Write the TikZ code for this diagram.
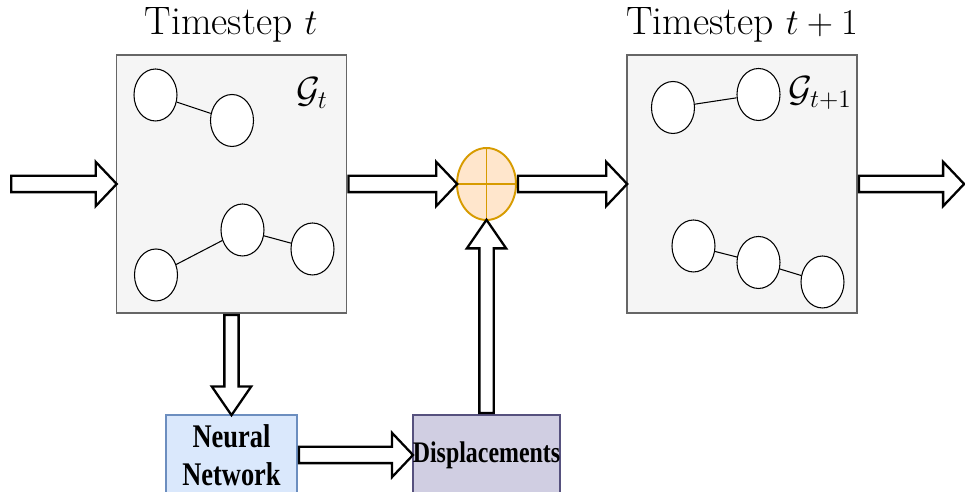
\documentclass[tikz,border=0pt]{standalone}
\usepackage{fontspec}
\newfontfamily\boxfont[FakeStretch=0.8]{Liberation Serif}
\usetikzlibrary{calc,shapes.geometric,shapes.arrows}

\definecolor{boxgrey}{HTML}{F5F5F5}
\definecolor{boxline}{HTML}{666666}
\definecolor{mergefill}{HTML}{FFE6CC}
\definecolor{mergeline}{HTML}{D79B00}
\definecolor{nnfill}{HTML}{DAE8FC}
\definecolor{nnline}{HTML}{6C8EBF}
\definecolor{dispfill}{HTML}{D0CEE2}
\definecolor{displine}{HTML}{56517E}

\tikzset{
  graphbox/.style={draw=boxline,fill=boxgrey,line width=1.1pt,minimum width=4.6cm,minimum height=5.16cm},
  vertex/.style={ellipse,draw,fill=white,line width=.6pt,inner sep=0pt,minimum width=.86cm,minimum height=1.04cm},
  merge/.style={ellipse,draw=mergeline,fill=mergefill,line width=1.1pt,minimum width=1.18cm,minimum height=1.44cm},
  title/.style={font=\fontsize{22.6}{26}\selectfont},
  glabel/.style={font=\fontsize{22}{26}\selectfont},
  blockbox/.style={line width=1.1pt,minimum height=1.6cm,align=center,inner sep=0pt},
  flow/.style={single arrow,draw=black,fill=white,line width=1.3pt,inner xsep=0pt,inner ysep=.14cm,
    single arrow head extend=.28cm,single arrow tip angle=93},
  flowv/.style={inner ysep=.12cm,single arrow head extend=.25cm,single arrow tip angle=69}
}

% block arrow from one point to another
\newcommand{\flowarrow}[3][]{%
  \path let \p1=(#2), \p2=(#3), \n1={atan2(\y2-\y1,\x2-\x1)}, \n2={veclen(\x2-\x1,\y2-\y1)}
    in node[flow,#1,rotate=\n1,minimum height=\n2,anchor=tail] at (\p1) {};%
}

\begin{document}
\begin{tikzpicture}[x=.02cm,y=-.02cm]
\useasboundingbox (0,0) rectangle (965,492);

% graphs at the two timesteps
\node[graphbox] (gt) at (231.5,184) {};
\node[graphbox] (gtnext) at (742,184) {};
\node[title,anchor=base] at (231,35) {Timestep $t$};
\node[title,anchor=base] at (742,35) {Timestep $t+1$};
\node[glabel] (lt) at (312,93) {$\mathcal{G}_t$};
\node[glabel] (ltnext) at (820,93) {$\mathcal{G}_{t+1}$};

\node[vertex] (a1) at (155.5,95) {};
\node[vertex] (a2) at (232,120.5) {};
\node[vertex] (a3) at (242.5,230) {};
\node[vertex] (a4) at (312.5,249) {};
\node[vertex] (a5) at (156,275) {};
\draw[line width=.6pt] (a1) -- (a2);
\draw[line width=.6pt] (a5) -- (a3) -- (a4);

\node[vertex] (b1) at (673,107.5) {};
\node[vertex] (b2) at (758.5,94.5) {};
\node[vertex] (b3) at (693.5,246) {};
\node[vertex] (b4) at (758.5,262.5) {};
\node[vertex] (b5) at (822.5,282) {};
\draw[line width=.6pt] (b1) -- (b2);
\draw[line width=.6pt] (b3) -- (b4) -- (b5);

% sum node
\node[merge] (sum) at (486.5,184) {};
\draw[mergeline,line width=1.1pt] (sum.north) -- (sum.south);
\draw[mergeline,line width=1.1pt] (sum.west) -- (sum.east);

% network and its output
\node[blockbox,draw=nnline,fill=nnfill,minimum width=2.62cm,
  font=\boxfont\bfseries\fontsize{18.8}{21.5}\selectfont] (nn) at (231.5,455) {Neural\\Network};
\node[blockbox,draw=displine,fill=dispfill,minimum width=2.94cm,
  font=\boxfont\bfseries\fontsize{17}{20}\selectfont] (disp) at (486.5,455) {Displacements};

\coordinate (in) at (10,184);
\coordinate (out) at (963,184);

\flowarrow{in}{gt.west}
\flowarrow{gt.east}{sum.west}
\flowarrow{sum.east}{gtnext.west}
\flowarrow{gtnext.east}{out}
\flowarrow[flowv]{gt.south}{nn.north}
\flowarrow{nn.east}{disp.west}
\flowarrow[flowv]{disp.north}{sum.south}

\end{tikzpicture}
\end{document}
